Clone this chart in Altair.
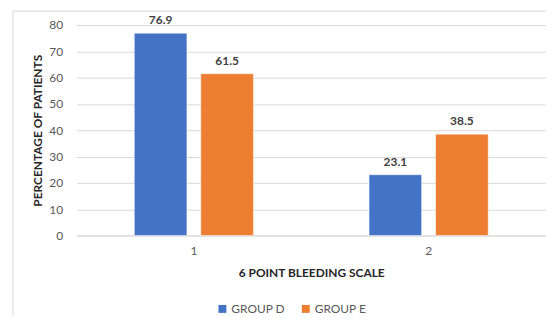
import altair as alt
import pandas as pd

categories = ["1", "2"]
group_d = [76.9, 23.1]
group_e = [61.5, 38.5]
groups = ["GROUP D", "GROUP E"]
colors = ["#4472C4", "#ED7D31"]

rows = []
for i, c in enumerate(categories):
    rows.append({"cat": c, "group": groups[0], "value": group_d[i]})
    rows.append({"cat": c, "group": groups[1], "value": group_e[i]})
df = pd.DataFrame(rows)

FONT = "Lato"

x = alt.X("cat:N", title="6 POINT BLEEDING SCALE",
          scale=alt.Scale(paddingInner=0, paddingOuter=0),
          axis=alt.Axis(labelAngle=0, tickSize=0, domain=True, domainColor="#d9d9d9",
                        labelColor="#595959", labelFontSize=12, labelPadding=10,
                        titleFontSize=12, titleFontWeight="bold", titleColor="#262626",
                        titlePadding=11, grid=False))
xo = alt.XOffset("group:N", scale=alt.Scale(paddingInner=0.209, paddingOuter=0.869))
y = alt.Y("value:Q", title="PERCENTAGE OF PATIENTS",
          scale=alt.Scale(domain=[0, 80]),
          axis=alt.Axis(values=[0, 10, 20, 30, 40, 50, 60, 70, 80], tickSize=0, domain=False,
                        labelColor="#595959", labelFontSize=12, labelPadding=14,
                        gridColor="#d9d9d9", gridWidth=1,
                        titleFontSize=12, titleFontWeight="bold", titleColor="#262626",
                        titlePadding=4))

base = alt.Chart(df)
bars = base.mark_bar(stroke="white", strokeWidth=0.5).encode(
    x=x, xOffset=xo, y=y,
    color=alt.Color("group:N", scale=alt.Scale(domain=groups, range=colors),
                    legend=alt.Legend(title=None, orient="none", legendX=141, legendY=280,
                                      direction="horizontal", symbolType="square",
                                      symbolSize=64, symbolStrokeWidth=0,
                                      labelFontSize=12, labelColor="#595959",
                                      columnPadding=14, labelOffset=3)),
)
labels = base.mark_text(baseline="bottom", dy=-6, fontSize=12, fontWeight="bold",
                        color="#404040", font=FONT).encode(
    x=x, xOffset=xo, y=y, text=alt.Text("value:Q", format=".1f"))

border = alt.Chart(pd.DataFrame({"a": [0]})).mark_rect(
    fill=None, stroke="#d9d9d9", strokeWidth=1, clip=False).encode(
    x=alt.value(-64), x2=alt.value(490), y=alt.value(-14), y2=alt.value(310))

chart = alt.layer(border, bars, labels).properties(
    width=473, height=212,
    autosize=alt.AutoSizeParams(type="none"),
    padding={"left": 69, "top": 16, "right": 0, "bottom": 80},
).configure(font=FONT).configure_view(stroke=None)

chart.save("out.html", embed_options={"renderer": "svg", "actions": False})
